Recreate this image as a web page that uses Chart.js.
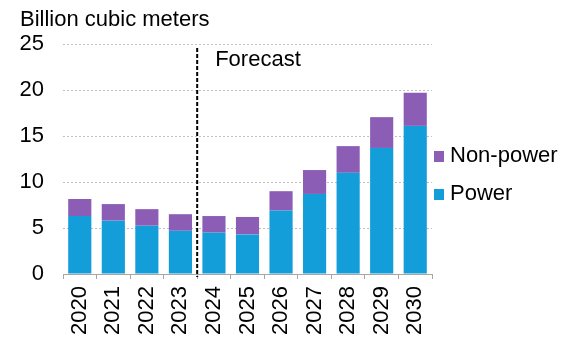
<!DOCTYPE html>
<html>
<head>
<meta charset="utf-8">
<script src="https://cdn.jsdelivr.net/npm/chart.js@4/dist/chart.umd.min.js"></script>
<style>
  html, body { margin: 0; padding: 0; background: #fff; }
  #wrap { width: 579px; height: 345px; position: relative; }
</style>
</head>
<body>
<div id="wrap"><canvas id="chart"></canvas></div>
<script>
const years = ['2020', '2021', '2022', '2023', '2024', '2025', '2026', '2027', '2028', '2029', '2030'];
const power = [6.3, 5.8, 5.25, 4.7, 4.5, 4.3, 6.9, 8.7, 11.0, 13.7, 16.1];
const nonPower = [1.85, 1.8, 1.8, 1.8, 1.8, 1.9, 2.1, 2.6, 2.9, 3.35, 3.6];
const yTicks = [0, 5, 10, 15, 20, 25];

const FONT = 'Liberation Sans, Arial, sans-serif';
const BLUE = '#139DD9';
const PURPLE = '#8C5DB5';

// dashed forecast divider, y title, legend
const extras = {
  id: 'extras',
  afterDraw(chart) {
    const ctx = chart.ctx;
    const x = chart.scales.x;
    const area = chart.chartArea;
    const lineX = (x.getPixelForValue(3) + x.getPixelForValue(4)) / 2;

    ctx.save();
    ctx.strokeStyle = '#000';
    ctx.lineWidth = 2;
    ctx.setLineDash([4, 2]);
    ctx.beginPath();
    ctx.moveTo(lineX, 48);
    ctx.lineTo(lineX, area.bottom + 3);
    ctx.stroke();
    ctx.setLineDash([]);

    ctx.fillStyle = '#000';
    ctx.font = '22px ' + FONT;
    ctx.textBaseline = 'middle';
    ctx.textAlign = 'left';
    ctx.fillText('Forecast', lineX + 18, 60);
    ctx.fillText('Billion cubic meters', 20, 20);

    // legend
    const items = [['Non-power', PURPLE, 156], ['Power', BLUE, 194]];
    items.forEach(it => {
      ctx.fillStyle = it[1];
      ctx.fillRect(434, it[2] - 5, 10, 11);
      ctx.fillStyle = '#000';
      ctx.fillText(it[0], 450, it[2]);
    });
    ctx.restore();
  }
};

new Chart(document.getElementById('chart'), {
  type: 'bar',
  data: {
    labels: years,
    datasets: [
      { label: 'Power', data: power, backgroundColor: BLUE, barPercentage: 0.69, categoryPercentage: 1 },
      { label: 'Non-power', data: nonPower, backgroundColor: PURPLE, barPercentage: 0.69, categoryPercentage: 1 }
    ]
  },
  options: {
    responsive: true,
    maintainAspectRatio: false,
    animation: false,
    layout: { padding: { top: 44, right: 147, bottom: 0, left: 0 } },
    plugins: { legend: { display: false }, tooltip: { enabled: false } },
    scales: {
      x: {
        stacked: true,
        afterFit: s => { s.height = 71; },
        grid: { offset: true, drawOnChartArea: false, tickLength: 5, color: '#a6a6a6' },
        border: { color: '#a6a6a6' },
        ticks: { minRotation: 90, maxRotation: 90, padding: 7, color: '#000', font: { family: FONT, size: 22 } }
      },
      y: {
        stacked: true,
        min: 0,
        max: 25,
        afterFit: s => { s.width = 63; },
        afterBuildTicks: s => { s.ticks = yTicks.map(v => ({ value: v })); },
        grid: { drawTicks: false, color: '#bfbfbf', lineWidth: 1 },
        border: { display: false, dash: [2, 2] },
        ticks: { padding: 19, color: '#000', font: { family: FONT, size: 22 } }
      }
    }
  },
  plugins: [extras]
});
</script>
</body>
</html>
